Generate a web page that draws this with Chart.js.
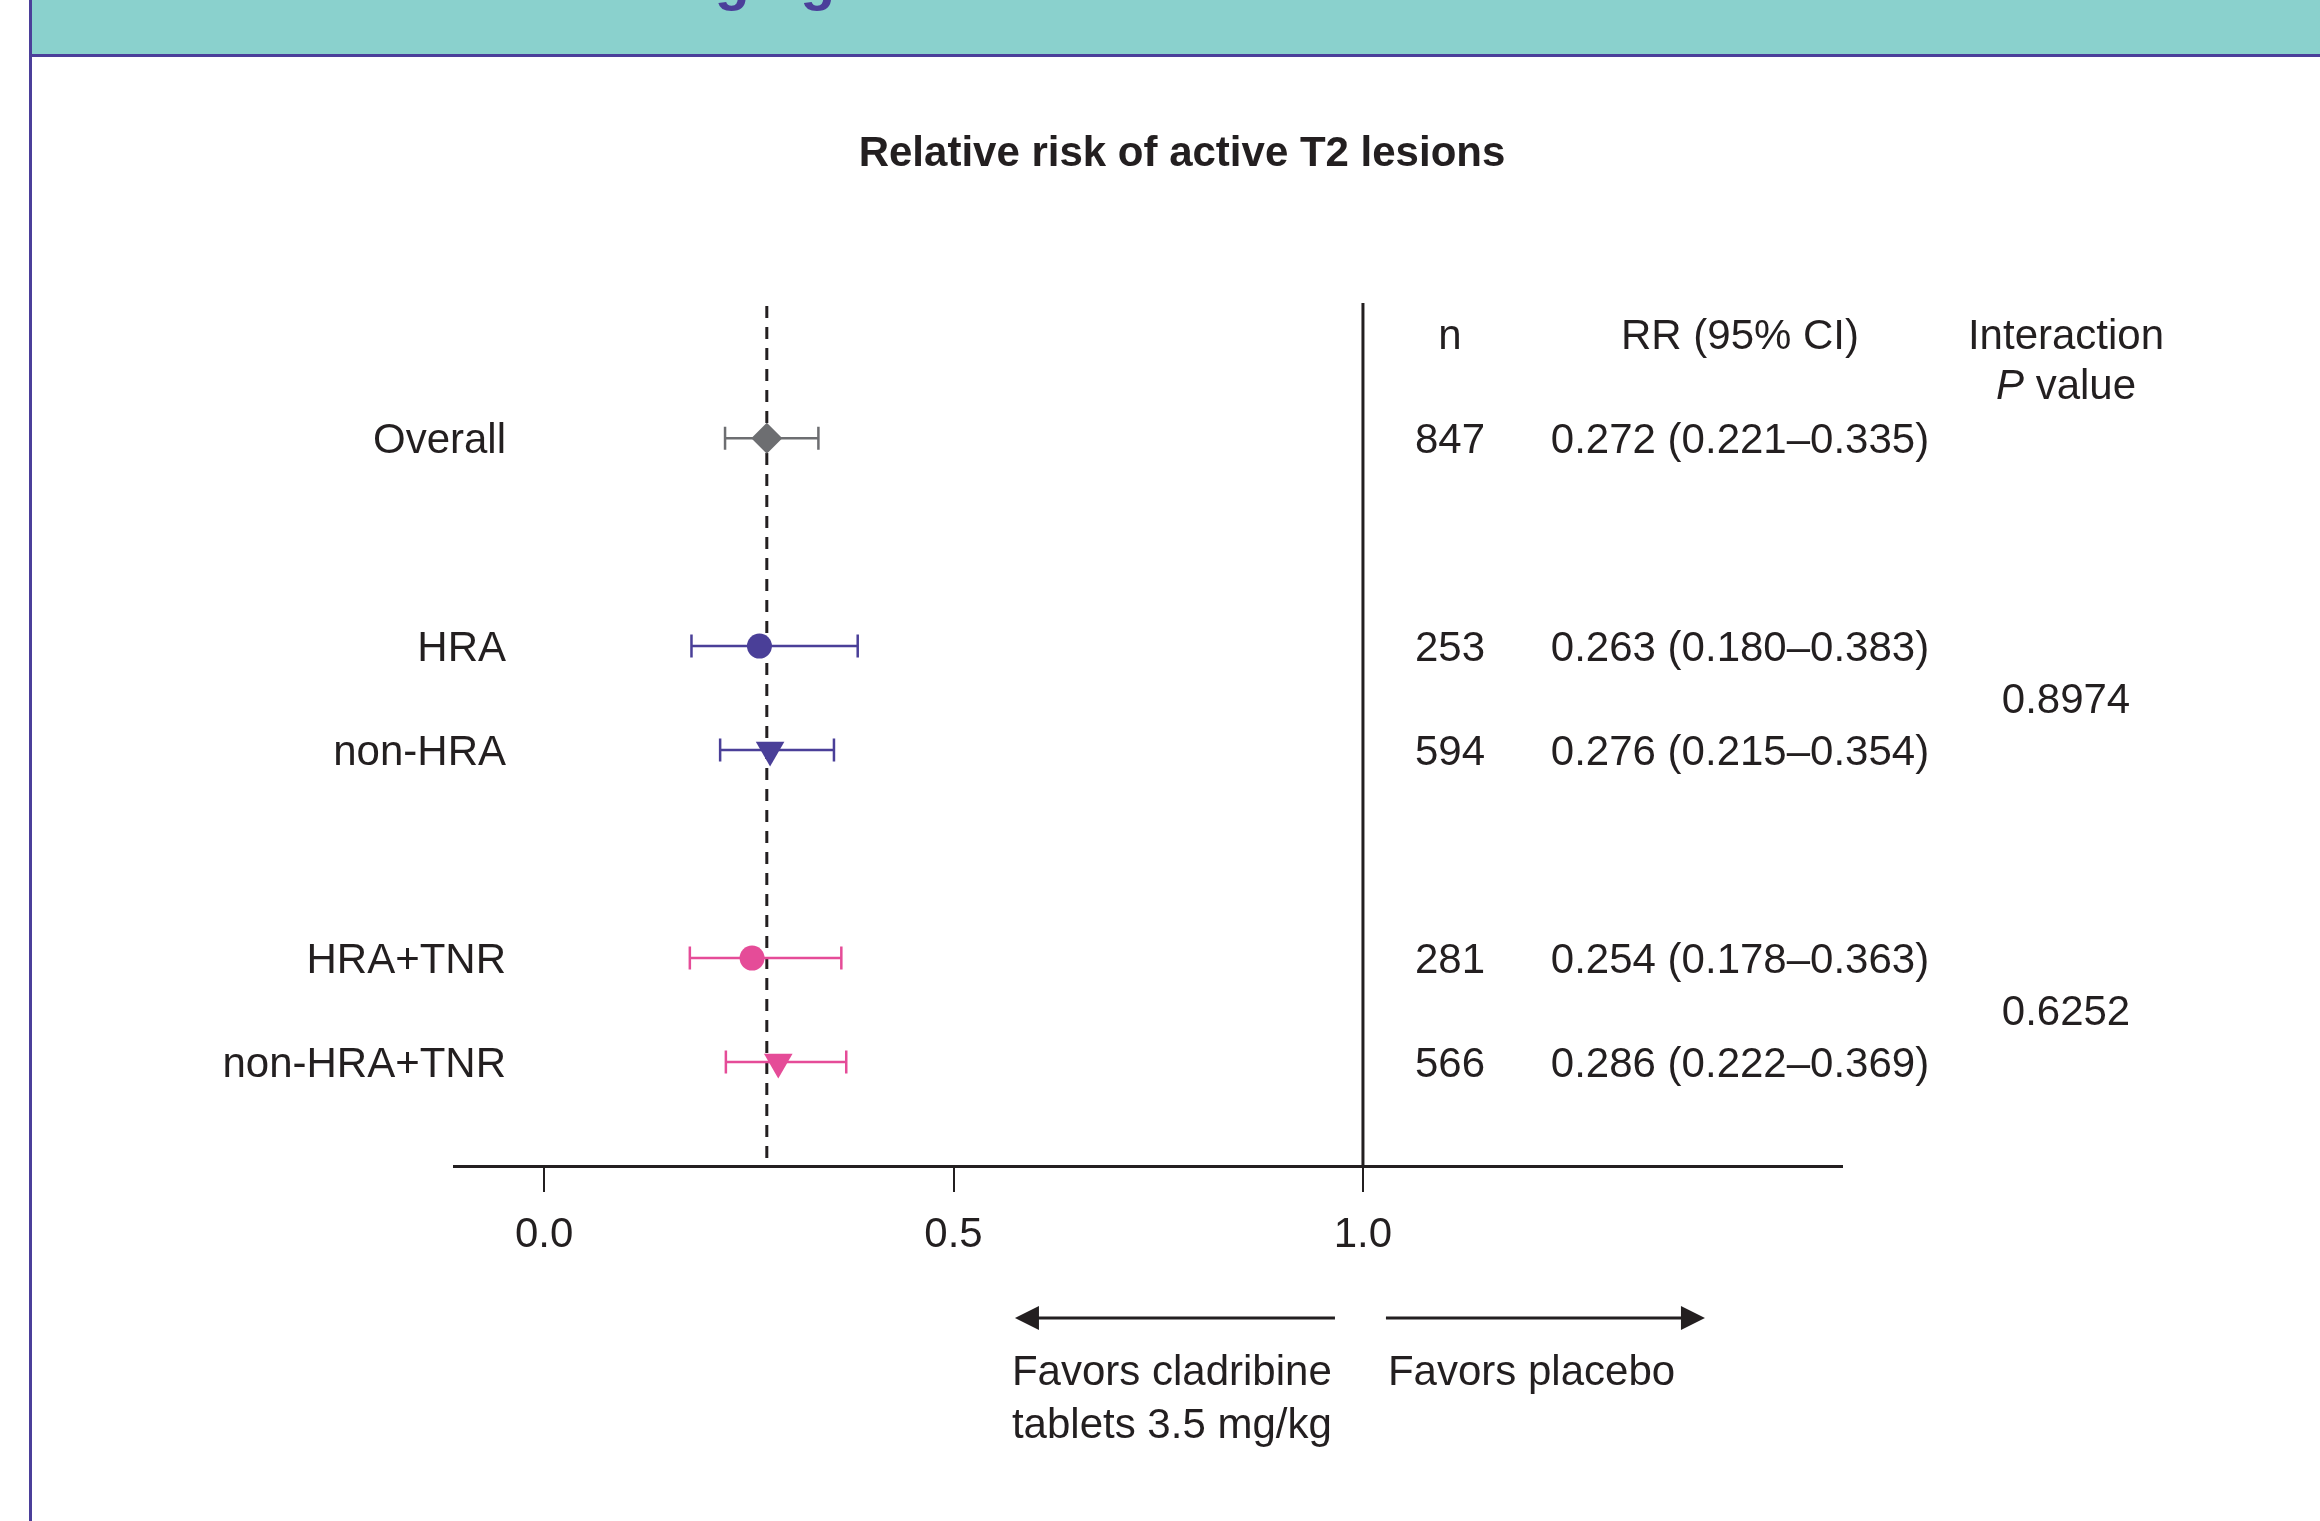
<!DOCTYPE html>
<html>
<head>
<meta charset="utf-8">
<script src="https://cdn.jsdelivr.net/npm/chart.js@4.4.1/dist/chart.umd.min.js"></script>
<style>
    html, body { margin: 0; padding: 0; background: #fff; }
    #wrap { width: 2320px; height: 1521px; }
</style>
</head>
<body>
<div id="wrap"><canvas id="forest" width="2320" height="1521"></canvas></div>
<script>
// Subgroups
const groups = ['Overall', 'HRA', 'non-HRA', 'HRA+TNR', 'non-HRA+TNR'];
const rowPos = [0, 2, 3, 5, 6];
const nValues = [847, 253, 594, 281, 566];
const rr = [0.272, 0.263, 0.276, 0.254, 0.286];
const ciLow = [0.221, 0.180, 0.215, 0.178, 0.222];
const ciHigh = [0.335, 0.383, 0.354, 0.363, 0.369];
const pValues = ['0.8974', '0.6252'];
const pRows = [2.5, 5.5];
const xTicks = [0, 0.5, 1.0];

const groupColors = ['#6d6e71', '#4a3f98', '#4a3f98', '#e54c98', '#e54c98'];
const markerStyles = ['rectRot', 'circle', 'triangle', 'circle', 'triangle'];
const markerRotation = [0, 0, 180, 0, 180];
const markerRadius = [15.5, 12.5, 16.5, 12.5, 16.5];

const INK = '#231f20';
const FONT = '"Liberation Sans", Arial, Helvetica, sans-serif';
const TEXT_DY = 3; // canvas 'middle' sits a bit high vs. the original

// Teal banner, purple frame
const pageFrame = {
    id: 'pageFrame',
    beforeDraw(chart) {
        const ctx = chart.ctx;
        ctx.save();
        ctx.fillStyle = '#fff';
        ctx.fillRect(0, 0, chart.width, chart.height);
        ctx.fillStyle = '#8ad1cd';
        ctx.fillRect(30, 0, chart.width - 30, 54);
        ctx.fillStyle = '#4b3f9a';
        ctx.fillRect(30, 54, chart.width - 30, 3);
        ctx.fillRect(29, 0, 3, chart.height);
        // heading cut off by the top edge
        ctx.font = `bold 57px ${FONT}`;
        ctx.textAlign = 'right';
        ctx.textBaseline = 'alphabetic';
        ctx.fillText('Imaging', 835, -1);
        ctx.restore();
    }
};

// Reference lines and CI whiskers
const errorBars = {
    id: 'errorBars',
    beforeDatasetsDraw(chart) {
        const { ctx, chartArea, scales: { x, y } } = chart;
        ctx.save();

        const x1 = x.getPixelForValue(1);
        ctx.strokeStyle = INK;
        ctx.lineWidth = 3;
        ctx.beginPath();
        ctx.moveTo(x1, chartArea.top);
        ctx.lineTo(x1, chartArea.bottom);
        ctx.stroke();

        const xd = x.getPixelForValue(rr[0]);
        ctx.setLineDash([12, 9]);
        ctx.beginPath();
        ctx.moveTo(xd, chartArea.top + 3);
        ctx.lineTo(xd, chartArea.bottom);
        ctx.stroke();
        ctx.setLineDash([]);

        ctx.lineWidth = 2.5;
        rowPos.forEach((pos, i) => {
            const py = y.getPixelForValue(pos);
            const a = x.getPixelForValue(ciLow[i]);
            const b = x.getPixelForValue(ciHigh[i]);
            ctx.strokeStyle = groupColors[i];
            ctx.beginPath();
            ctx.moveTo(a, py); ctx.lineTo(b, py);
            ctx.moveTo(a, py - 11.5); ctx.lineTo(a, py + 11.5);
            ctx.moveTo(b, py - 11.5); ctx.lineTo(b, py + 11.5);
            ctx.stroke();
        });
        ctx.restore();
    }
};

// Title, row labels, table columns, favours arrows
const tableText = {
    id: 'tableText',
    afterDraw(chart) {
        const { ctx, scales: { x, y } } = chart;
        ctx.save();
        ctx.fillStyle = INK;
        ctx.textBaseline = 'middle';

        ctx.font = `bold 42px ${FONT}`;
        ctx.textAlign = 'center';
        ctx.fillText('Relative risk of active T2 lesions', 1182, 151 + TEXT_DY);

        ctx.font = `42px ${FONT}`;
        const colN = 1450, colRR = 1740, colP = 2066;
        const headY = y.getPixelForValue(-1.0) + TEXT_DY;
        ctx.fillText('n', colN, headY);
        ctx.fillText('RR (95% CI)', colRR, headY);
        ctx.fillText('Interaction', colP, headY);

        // "P value" with italic P
        const pY = y.getPixelForValue(-0.52) + TEXT_DY;
        ctx.font = `italic 42px ${FONT}`;
        const wP = ctx.measureText('P').width;
        ctx.font = `42px ${FONT}`;
        const wRest = ctx.measureText(' value').width;
        const startP = colP - (wP + wRest) / 2;
        ctx.textAlign = 'left';
        ctx.font = `italic 42px ${FONT}`;
        ctx.fillText('P', startP, pY);
        ctx.font = `42px ${FONT}`;
        ctx.fillText(' value', startP + wP, pY);

        rowPos.forEach((pos, i) => {
            const py = y.getPixelForValue(pos) + TEXT_DY;
            ctx.textAlign = 'right';
            ctx.fillText(groups[i], 506, py);
            ctx.textAlign = 'center';
            ctx.fillText(String(nValues[i]), colN, py);
            ctx.fillText(`${rr[i].toFixed(3)} (${ciLow[i].toFixed(3)}\u2013${ciHigh[i].toFixed(3)})`, colRR, py);
        });
        pRows.forEach((pos, i) => {
            ctx.fillText(pValues[i], colP, y.getPixelForValue(pos) + TEXT_DY);
        });

        // arrows below the axis
        const x1 = x.getPixelForValue(1);
        const ay = 1318;
        ctx.strokeStyle = INK;
        ctx.lineWidth = 3;
        ctx.beginPath();
        ctx.moveTo(x1 - 28, ay); ctx.lineTo(x1 - 330, ay);
        ctx.moveTo(x1 + 23, ay); ctx.lineTo(x1 + 320, ay);
        ctx.stroke();
        ctx.beginPath();
        ctx.moveTo(x1 - 348, ay);
        ctx.lineTo(x1 - 324, ay - 12);
        ctx.lineTo(x1 - 324, ay + 12);
        ctx.closePath();
        ctx.moveTo(x1 + 342, ay);
        ctx.lineTo(x1 + 318, ay - 12);
        ctx.lineTo(x1 + 318, ay + 12);
        ctx.closePath();
        ctx.fill();

        ctx.textAlign = 'left';
        ctx.fillText('Favors cladribine', x1 - 351, 1370 + TEXT_DY);
        ctx.fillText('tablets 3.5 mg/kg', x1 - 351, 1423 + TEXT_DY);
        ctx.fillText('Favors placebo', x1 + 25, 1370 + TEXT_DY);
        ctx.restore();
    }
};

new Chart(document.getElementById('forest'), {
    type: 'scatter',
    data: {
        datasets: [{
            data: rowPos.map((p, i) => ({ x: rr[i], y: p })),
            pointStyle: markerStyles,
            rotation: markerRotation,
            pointRadius: markerRadius,
            pointBackgroundColor: groupColors,
            pointBorderColor: groupColors,
            pointBorderWidth: 0
        }]
    },
    options: {
        responsive: false,
        devicePixelRatio: 1,
        animation: false,
        layout: { padding: { left: 454, right: 478, top: 303, bottom: 245 } },
        plugins: { legend: { display: false }, tooltip: { enabled: false } },
        scales: {
            x: {
                type: 'linear',
                min: -0.11,
                max: 1.585,
                afterBuildTicks: (scale) => { scale.ticks = xTicks.map(v => ({ value: v })); },
                afterFit: (scale) => { scale.height = 110; },
                border: { display: true, color: INK, width: 3 },
                grid: { drawOnChartArea: false, drawTicks: true, tickLength: 26, color: INK, lineWidth: 2 },
                ticks: {
                    padding: 18,
                    color: INK,
                    font: { family: FONT, size: 42 },
                    callback: (v) => Number(v).toFixed(1)
                }
            },
            y: {
                type: 'linear',
                reverse: true,
                min: -1.3,
                max: 7,
                display: false
            }
        }
    },
    plugins: [pageFrame, errorBars, tableText]
});
</script>
</body>
</html>
